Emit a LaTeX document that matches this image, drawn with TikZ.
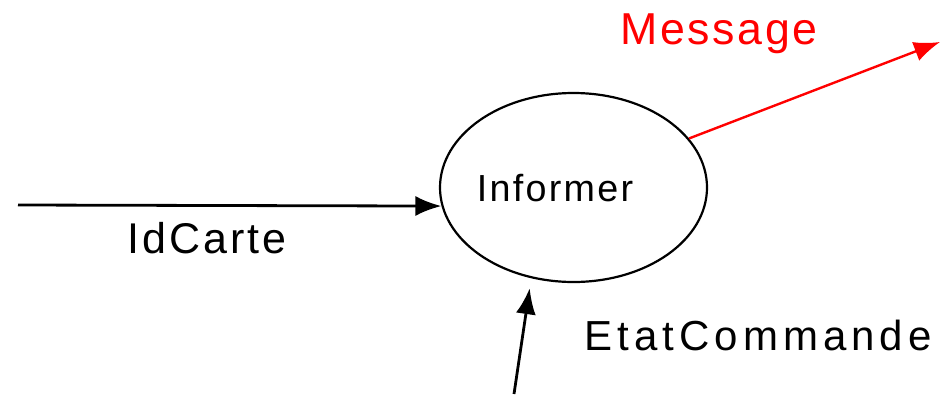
\documentclass[tikz,border=0pt]{standalone}
\usepackage{fontspec}
\setmainfont{Liberation Sans}
\usetikzlibrary{shapes.geometric}
\usetikzlibrary{arrows.meta}
\newcommand{\lblfont}[2]{\fontsize{#1}{#1}\selectfont\addfontfeatures{LetterSpace=#2}}

\tikzset{
  flow/.style={line width=2.8pt, -{Latex[length=26pt,width=20pt]}},
  lbl/.style={anchor=base, inner sep=0pt},
}

\begin{document}
\begin{tikzpicture}[x=1pt,y=-1pt]
    \useasboundingbox (0,0) rectangle (942,394);
    \node [ellipse, draw, line width=2.2pt, minimum width=267pt, minimum height=189pt, inner sep=0pt] (informer) at (573.5,187.5) {};
    \node [lbl, font=\lblfont{37.7}{6}] (informertxt) at (555,201.7) {Informer};

    \coordinate (cin) at (18,205);
    \coordinate (cout) at (940,42);
    \coordinate (cetat) at (514,394);

    \draw [flow] (cin) -- (informer.188);
    \draw [flow, red, line width=2.4pt] (informer.23.4) -- (cout);
    \draw [flow, shorten >=10pt] (cetat) -- (informer.245);

    \node [lbl, font=\lblfont{43}{7}] (idcarte) at (207,253) {IdCarte};
    \node [lbl, red, font=\lblfont{44.7}{6}] (message) at (719,44) {Message};
    \node [lbl, font=\lblfont{42}{12}] (etat) at (758,350) {EtatCommande};
  \end{tikzpicture}
\end{document}
